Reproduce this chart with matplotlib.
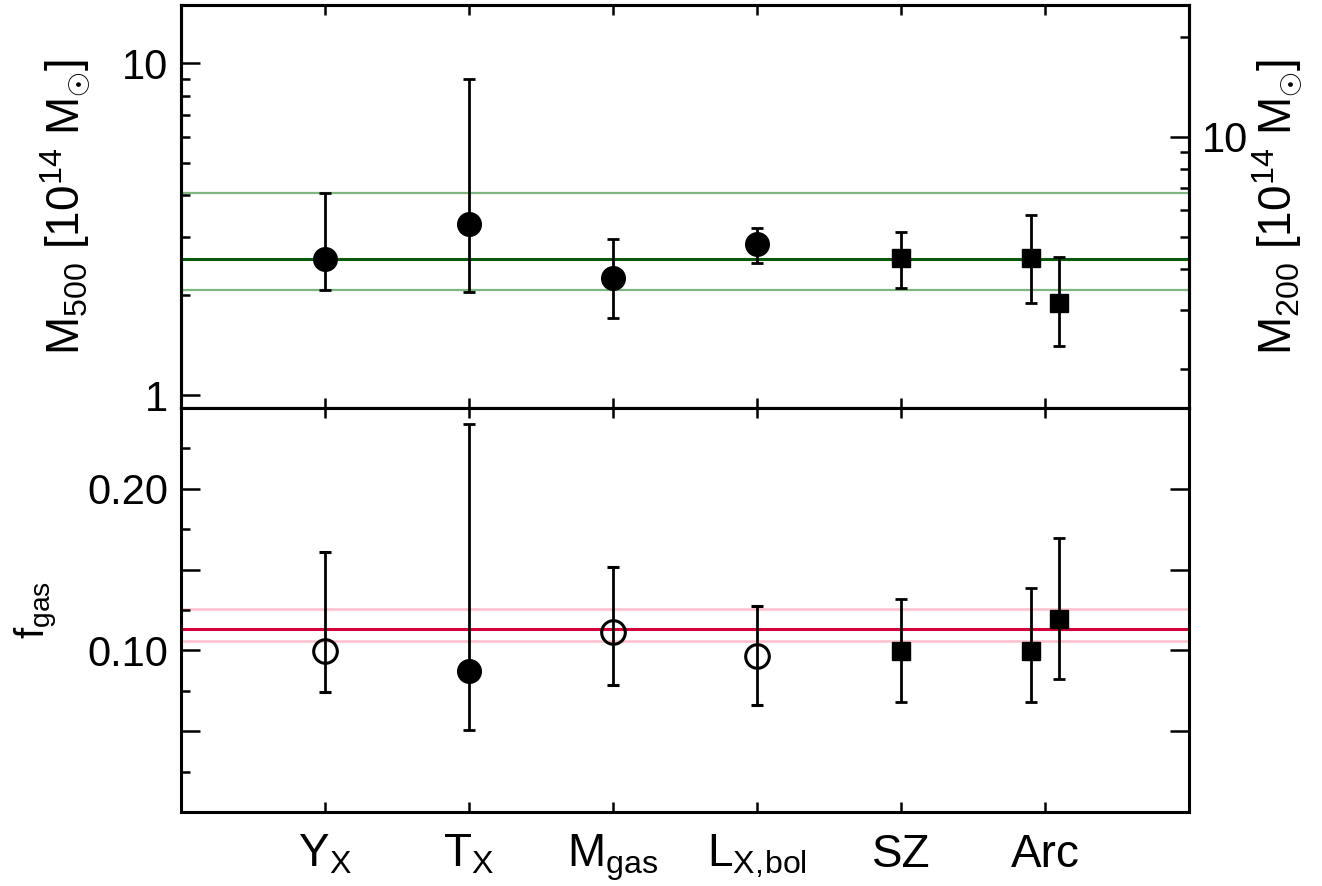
import matplotlib
matplotlib.use("Agg")
import matplotlib.pyplot as plt
from matplotlib.ticker import FixedLocator, MultipleLocator, NullFormatter, FuncFormatter, LogLocator

plt.rcParams["font.family"] = ["Liberation Sans", "DejaVu Sans"]
plt.rcParams["mathtext.fontset"] = "custom"
plt.rcParams["mathtext.rm"] = "Liberation Sans"
plt.rcParams["mathtext.it"] = "Liberation Sans"
plt.rcParams["mathtext.bf"] = "Liberation Sans:bold"

# Categories and where the points sit
categories = [r"Y$_\mathrm{X}$", r"T$_\mathrm{X}$", r"M$_\mathrm{gas}$",
              r"L$_\mathrm{X,\!bol}$", "SZ", "Arc"]
cat_pos = [1, 2, 3, 4, 5, 6]
point_x = [1, 2, 3, 4, 5, 5.9, 6.1]

# Top panel: M500 [1e14 Msun]
m500 = [2.57, 3.28, 2.25, 2.85, 2.59, 2.59, 1.90]
m500_hi = [4.06, 8.95, 2.95, 3.18, 3.11, 3.49, 2.60]
m500_lo = [2.07, 2.04, 1.71, 2.50, 2.10, 1.90, 1.405]
m500_mean = 2.57
m500_band = [2.07, 4.06]
m200_over_m500 = 1.665

# Bottom panel: gas fraction
fgas = [0.0996, 0.087, 0.1114, 0.0963, 0.0994, 0.0994, 0.1193]
fgas_hi = [0.1607, 0.2404, 0.1514, 0.1273, 0.1321, 0.1388, 0.1694]
fgas_lo = [0.0742, 0.0509, 0.0789, 0.0665, 0.068, 0.068, 0.0824]
fgas_mean = 0.1135
fgas_band = [0.1056, 0.1255]

# marker per point: filled circle, open circle, square
top_markers = ["fc", "fc", "fc", "fc", "sq", "sq", "sq"]
bot_markers = ["oc", "fc", "oc", "oc", "sq", "sq", "sq"]


def draw_point(ax, x, y, lo, hi, kind):
    style = dict(color="black", ecolor="black", elinewidth=2, capsize=4,
                 capthick=2, zorder=5, linestyle="none")
    if kind == "fc":
        style.update(marker="o", markersize=17, markerfacecolor="black")
    elif kind == "oc":
        style.update(marker="o", markersize=17, markerfacecolor="none",
                     markeredgewidth=2.2)
    else:
        style.update(marker="s", markersize=13, markerfacecolor="black")
    ax.errorbar([x], [y], yerr=[[y - lo], [hi - y]], **style)


def style_axis(ax):
    for sp in ax.spines.values():
        sp.set_linewidth(2.2)
    ax.tick_params(axis="both", which="both", direction="in", width=1.8)
    ax.tick_params(axis="y", which="major", length=14, labelsize=30, pad=9)
    ax.tick_params(axis="y", which="minor", length=6.5)
    ax.tick_params(axis="x", which="major", length=7)


fig = plt.figure(figsize=(13.22, 8.86), dpi=100)
ax1 = fig.add_axes([0.1369, 0.5395, 0.7625, 0.4549])
ax2 = fig.add_axes([0.1369, 0.0835, 0.7625, 0.456])

# ---- top panel
ax1.set_yscale("log")
ax1.set_ylim(0.914, 15.0)
ax1.set_xlim(0, 7)
ax1.axhline(m500_band[0], color="#7fb57f", lw=1.6, zorder=1)
ax1.axhline(m500_band[1], color="#7fb57f", lw=1.6, zorder=1)
ax1.axhline(m500_mean, color="#0b5a0b", lw=2.2, zorder=2)
for x, y, lo, hi, k in zip(point_x, m500, m500_lo, m500_hi, top_markers):
    draw_point(ax1, x, y, lo, hi, k)

style_axis(ax1)
ax1.yaxis.set_major_locator(FixedLocator([1, 10]))
ax1.yaxis.set_major_formatter(FuncFormatter(lambda v, p: f"{v:g}"))
ax1.yaxis.set_minor_locator(LogLocator(subs=range(2, 10)))
ax1.yaxis.set_minor_formatter(NullFormatter())
ax1.set_xticks(cat_pos)
ax1.tick_params(axis="x", top=True, bottom=True, labelbottom=False)
ax1.tick_params(axis="y", right=False)
ax1.set_ylabel(r"M$_\mathrm{500}$ [10$^\mathrm{14}$ M$_{{\odot}}$]", fontsize=33, labelpad=22)

ax1r = ax1.twinx()
ax1r.set_yscale("log")
ax1r.set_ylim(0.914 * m200_over_m500, 15.0 * m200_over_m500)
style_axis(ax1r)
ax1r.yaxis.set_major_locator(FixedLocator([10]))
ax1r.yaxis.set_major_formatter(FuncFormatter(lambda v, p: f"{v:g}"))
ax1r.yaxis.set_minor_locator(LogLocator(subs=range(2, 10)))
ax1r.yaxis.set_minor_formatter(NullFormatter())
ax1r.set_ylabel(r"M$_\mathrm{200}$ [10$^\mathrm{14}$ M$_{{\odot}}$]", fontsize=33,
                rotation=90, labelpad=2)

# ---- bottom panel
ax2.set_ylim(0, 0.25)
ax2.set_xlim(0, 7)
ax2.axhline(fgas_band[0], color="#ffc0cb", lw=1.8, zorder=1)
ax2.axhline(fgas_band[1], color="#ffc0cb", lw=1.8, zorder=1)
ax2.axhline(fgas_mean, color="#d4003c", lw=2.2, zorder=2)
for x, y, lo, hi, k in zip(point_x, fgas, fgas_lo, fgas_hi, bot_markers):
    draw_point(ax2, x, y, lo, hi, k)

style_axis(ax2)
ax2.yaxis.set_major_locator(MultipleLocator(0.05))
ax2.yaxis.set_minor_locator(MultipleLocator(0.025))
ax2.yaxis.set_major_formatter(
    FuncFormatter(lambda v, p: f"{v:.2f}" if v > 0.01 and round(v * 100) % 10 == 0 else ""))
ax2.set_xticks(cat_pos)
ax2.set_xticklabels(categories, fontsize=33)
ax2.tick_params(axis="x", top=True, bottom=True, pad=15)
ax2.tick_params(axis="y", right=True, labelright=False)
ax2.set_ylabel(r"f$_\mathrm{gas}$", fontsize=29, labelpad=20)

fig.savefig("out.png", dpi=100)
